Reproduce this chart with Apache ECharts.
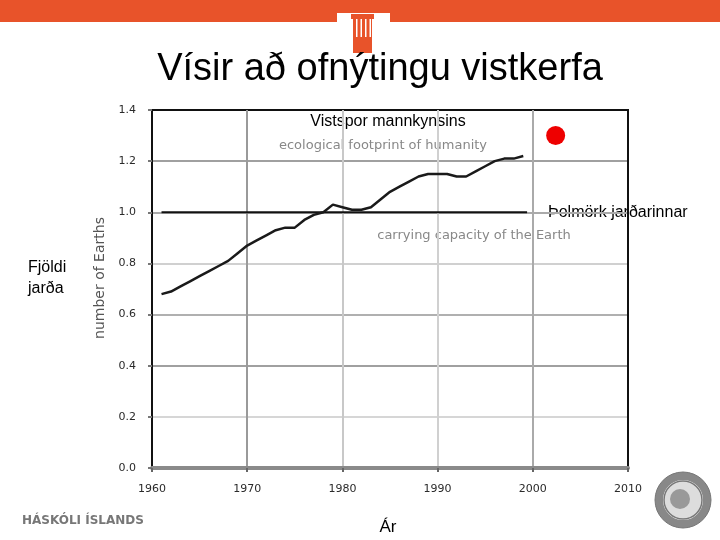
<!DOCTYPE html>
<html>
<head>
<meta charset="utf-8">
<script src="https://cdn.jsdelivr.net/npm/echarts@6/dist/echarts.min.js"></script>
<style>
  html, body { margin: 0; padding: 0; background: #fff; }
  #main { width: 720px; height: 540px; }
</style>
</head>
<body>
<div id="main"></div>
<script>
// ár og fjöldi jarða (vistspor mannkynsins)
var years = [1961, 1962, 1963, 1964, 1965, 1966, 1967, 1968, 1969, 1970,
             1971, 1972, 1973, 1974, 1975, 1976, 1977, 1978, 1979, 1980,
             1981, 1982, 1983, 1984, 1985, 1986, 1987, 1988, 1989, 1990,
             1991, 1992, 1993, 1994, 1995, 1996, 1997, 1998, 1999];
var footprint = [0.68, 0.69, 0.71, 0.73, 0.75, 0.77, 0.79, 0.81, 0.84, 0.87,
                 0.89, 0.91, 0.93, 0.94, 0.94, 0.97, 0.99, 1.00, 1.03, 1.02,
                 1.01, 1.01, 1.02, 1.05, 1.08, 1.10, 1.12, 1.14, 1.15, 1.15,
                 1.15, 1.14, 1.14, 1.16, 1.18, 1.20, 1.21, 1.21, 1.22];
// þolmörk jarðarinnar
var capacityYears = [1961, 1999.4];
var capacity = [1.0, 1.0];
// rauði punkturinn
var markerPoint = [2002.4, 1.3];

var xTicks = [1960, 1970, 1980, 1990, 2000, 2010];
var yTicks = [0.0, 0.2, 0.4, 0.6, 0.8, 1.0, 1.2, 1.4];

var chart = echarts.init(document.getElementById('main'));

var footData = years.map(function (y, i) { return [y, footprint[i]]; });
var capData = capacityYears.map(function (y, i) { return [y, capacity[i]]; });

var tickFont = {color: '#2a2a2a', fontSize: 11, fontFamily: 'DejaVu Sans'};
var sans = '"Liberation Sans", Arial, sans-serif';

var option = {
    backgroundColor: '#fff',
    animation: false,
    grid: {
        left: 152, right: 92, top: 110, bottom: 72,
        show: true, borderColor: '#111', borderWidth: 2
    },
    xAxis: {
        type: 'value',
        min: xTicks[0], max: xTicks[xTicks.length - 1], interval: 10,
        axisLine: {show: true, lineStyle: {color: '#8a8a8a', width: 4}},
        axisTick: {show: true, length: 4, lineStyle: {color: '#666', width: 2}},
        axisLabel: Object.assign({margin: 16, formatter: function (v) { return String(v); }}, tickFont),
        splitLine: {show: true, lineStyle: {color: ['#999', '#9a9a9a', '#c8c8c8', '#d0d0d0', '#aaa', '#111'], width: 2}}
    },
    yAxis: {
        type: 'value',
        min: 0, max: 1.4, interval: 0.2,
        axisLine: {show: true, lineStyle: {color: '#111', width: 2}},
        axisTick: {show: true, length: 4, lineStyle: {color: '#777', width: 2}},
        axisLabel: Object.assign({margin: 16, formatter: function (v) { return v.toFixed(1); }}, tickFont),
        splitLine: {show: true, lineStyle: {color: ['#888', '#d6d6d6', '#a0a0a0', '#b0b0b0', '#d0d0d0', '#aaa', '#a0a0a0', '#111'], width: 2}}
    },
    series: [
        {
            name: 'ecological footprint of humanity',
            type: 'line',
            data: footData,
            showSymbol: false,
            lineStyle: {color: '#1a1a1a', width: 2.5},
            z: 5
        },
        {
            name: 'carrying capacity of the Earth',
            type: 'line',
            data: capData,
            showSymbol: false,
            lineStyle: {color: '#111', width: 2},
            z: 4
        },
        {
            type: 'scatter',
            data: [markerPoint],
            symbolSize: 19,
            itemStyle: {color: '#ee0000', opacity: 1},
            z: 6
        }
    ],
    graphic: [
        // efri borði og súlumerki
        {type: 'rect', shape: {x: 0, y: 0, width: 720, height: 22}, style: {fill: '#e8532a'}},
        {type: 'rect', shape: {x: 337, y: 13, width: 53, height: 10}, style: {fill: '#fff'}},
        {type: 'rect', shape: {x: 351, y: 14, width: 23, height: 5}, style: {fill: '#e8532a'}},
        {type: 'rect', shape: {x: 353, y: 19, width: 19, height: 34}, style: {fill: '#e8532a'}},
        {type: 'rect', shape: {x: 356, y: 19, width: 1.5, height: 18}, style: {fill: '#fff'}},
        {type: 'rect', shape: {x: 360.5, y: 19, width: 1.5, height: 18}, style: {fill: '#fff'}},
        {type: 'rect', shape: {x: 365, y: 19, width: 1.5, height: 18}, style: {fill: '#fff'}},
        {type: 'rect', shape: {x: 369.5, y: 19, width: 1.5, height: 18}, style: {fill: '#fff'}},
        // titill
        {type: 'text', x: 380, y: 70, style: {text: 'Vísir að ofnýtingu vistkerfa', fill: '#000', font: '38px ' + sans, align: 'center', verticalAlign: 'middle'}},
        // ás-heiti
        {type: 'text', x: 100, y: 278, rotation: Math.PI / 2, style: {text: 'number of Earths', fill: '#555', font: '14px "DejaVu Sans", sans-serif', align: 'center', verticalAlign: 'middle'}},
        // skýringar
        {type: 'text', x: 388, y: 122, style: {text: 'Vistspor mannkynsins', fill: '#000', font: '16px ' + sans, align: 'center', verticalAlign: 'middle'}},
        {type: 'text', x: 383, y: 146, style: {text: 'ecological footprint of humanity', fill: '#888', font: '13px "DejaVu Sans", sans-serif', align: 'center', verticalAlign: 'middle'}},
        {type: 'text', x: 548, y: 213, style: {text: 'Þolmörk jarðarinnar', fill: '#000', font: '16px ' + sans, align: 'left', verticalAlign: 'middle'}},
        {type: 'text', x: 474, y: 236, style: {text: 'carrying capacity of the Earth', fill: '#888', font: '13px "DejaVu Sans", sans-serif', align: 'center', verticalAlign: 'middle'}},
        {type: 'text', x: 28, y: 257, style: {text: 'Fjöldi\njarða', fill: '#000', font: '16px ' + sans, lineHeight: 21}},
        {type: 'text', x: 388, y: 527, style: {text: 'Ár', fill: '#000', font: '17px ' + sans, align: 'center', verticalAlign: 'middle'}},
        // neðri merki
        {type: 'text', x: 22, y: 521, style: {text: 'HÁSKÓLI ÍSLANDS', fill: '#777', font: 'bold 12px "DejaVu Sans", sans-serif', verticalAlign: 'middle'}},
        {type: 'circle', shape: {cx: 683, cy: 500, r: 24}, style: {fill: 'none', stroke: '#888', lineWidth: 8}},
        {type: 'circle', shape: {cx: 683, cy: 500, r: 28}, style: {fill: 'none', stroke: '#777', lineWidth: 1}},
        {type: 'circle', shape: {cx: 683, cy: 500, r: 19}, style: {fill: '#ddd', stroke: '#777', lineWidth: 1.5}},
        {type: 'circle', shape: {cx: 680, cy: 499, r: 10}, style: {fill: '#999'}}
    ]
};

chart.setOption(option);
</script>
</body>
</html>
